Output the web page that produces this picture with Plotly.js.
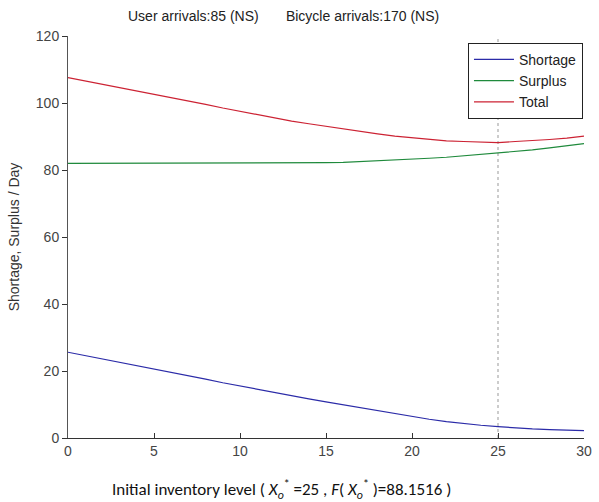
<!DOCTYPE html>
<html>
<head>
<meta charset="utf-8">
<script src="https://cdn.plot.ly/plotly-3.0.1.min.js"></script>
<style>html,body{margin:0;padding:0;background:#fff;}#chart{width:599px;height:502px;}</style>
</head>
<body>
<div id="chart"></div>
<script>
const inventory = [0,1,2,3,4,5,6,7,8,9,10,11,12,13,14,15,16,17,18,19,20,21,22,23,24,25,26,27,28,29,30];
const shortage = [25.6,24.6,23.6,22.7,21.8,20.8,19.7,18.7,17.6,16.5,15.5,14.5,13.5,12.6,11.7,10.8,9.9,9.0,8.1,7.2,6.4,5.6,4.9,4.3,3.8,3.4,3.0,2.7,2.5,2.3,2.2];
const surplus = [82.0,82.0,82.0,82.0,82.0,82.0,82.0,82.0,82.0,82.0,82.0,82.0,82.0,82.0,82.1,82.2,82.3,82.5,82.7,82.9,83.2,83.5,83.8,84.2,84.6,85.0,85.5,86.0,86.6,87.2,87.9];
const total = [107.6,106.6,105.6,104.7,103.8,102.8,101.7,100.7,99.6,98.5,97.5,96.5,95.5,94.6,93.8,93.0,92.2,91.5,90.8,90.1,89.6,89.1,88.7,88.5,88.4,88.15,88.5,88.7,89.1,89.5,90.1];
const seriesNames = ["Shortage","Surplus","Total"];
const optimumX = 25;
const xTicks = [0,5,10,15,20,25,30];
const yTicks = [0,20,40,60,80,100,120];

const traces = [
  {x: inventory, y: shortage, name: seriesNames[0], mode: "lines", line: {color: "#2b2ba8", width: 1.2}},
  {x: inventory, y: surplus, name: seriesNames[1], mode: "lines", line: {color: "#1f8a3c", width: 1.2}},
  {x: inventory, y: total, name: seriesNames[2], mode: "lines", line: {color: "#cc2233", width: 1.2}}
];

const layout = {
  width: 599, height: 502,
  margin: {l: 68, r: 15, t: 36, b: 64},
  paper_bgcolor: "#fff", plot_bgcolor: "#fff",
  font: {family: "Liberation Sans, Arial, sans-serif", size: 14, color: "#444"},
  showlegend: true,
  legend: {x: 0.998, xanchor: "right", y: 0.983, yanchor: "top", bgcolor: "#fff",
           bordercolor: "#222", borderwidth: 1, font: {size: 14, color: "#222"},
           tracegroupgap: 0, itemwidth: 40},
  xaxis: {range: [0, 30], tickvals: xTicks, ticks: "inside", ticklen: 5, tickcolor: "#333",
          showline: true, linecolor: "#333", linewidth: 1, showgrid: false, zeroline: false,
          mirror: false, tickfont: {size: 14, color: "#444"}},
  yaxis: {range: [0, 120], tickvals: yTicks, ticks: "outside", ticklen: 5, tickcolor: "#333",
          showline: true, linecolor: "#555", linewidth: 1, showgrid: false, zeroline: false,
          tickfont: {size: 14, color: "#444"},
          title: {text: "Shortage, Surplus / Day", font: {size: 14, color: "#333"}, standoff: 12}},
  shapes: [{type: "line", xref: "x", yref: "y", x0: optimumX, x1: optimumX, y0: 0, y1: 120,
            line: {color: "#999", width: 1, dash: "dot"}, layer: "below"}],
  annotations: [
    {text: "User arrivals:85 (NS)&nbsp;&nbsp;&nbsp;&nbsp;&nbsp;&nbsp;&nbsp;Bicycle arrivals:170 (NS)",
     xref: "paper", yref: "paper", x: (283 - 68) / 516, y: 1, yanchor: "bottom", yshift: 10,
     showarrow: false, font: {size: 14, color: "#222"}},
    {text: "Initial inventory level ( <i>X</i><sub><i>o</i></sub><sup>*</sup> =25 , <i>F</i>( <i>X</i><sub><i>o</i></sub><sup>*</sup> )=88.1516 )",
     xref: "paper", yref: "paper", x: (281 - 68) / 516, y: 0, yanchor: "top", yshift: -37,
     showarrow: false, font: {family: "Carlito, Liberation Sans, sans-serif", size: 17, color: "#111"}}
  ]
};

Plotly.newPlot("chart", traces, layout, {displayModeBar: false, staticPlot: true});
</script>
</body>
</html>
